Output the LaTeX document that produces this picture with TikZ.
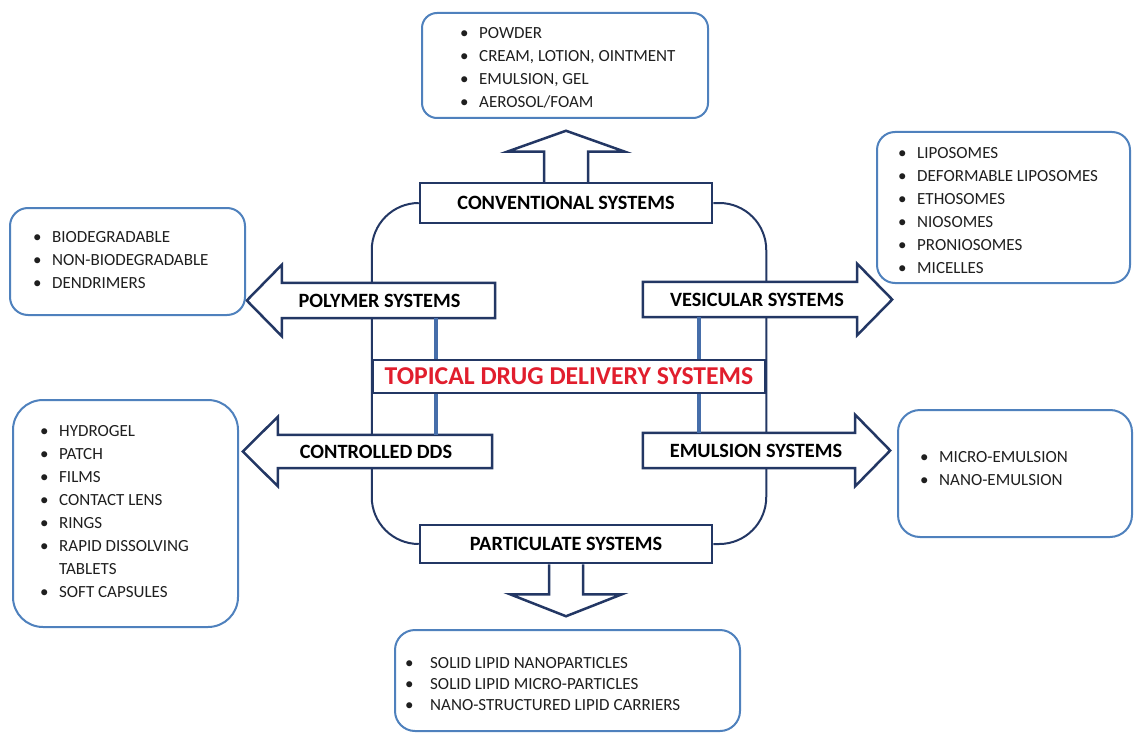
\documentclass[tikz,border=0pt]{standalone}
\usepackage{fontspec}
\setmainfont{Carlito}
\usetikzlibrary{calc}
\pgfdeclarelayer{looplayer}
\pgfdeclarelayer{arrlayer}
\pgfsetlayers{looplayer,arrlayer,main}
\definecolor{navy}{RGB}{35,55,100}
\definecolor{listblue}{RGB}{79,129,189}
\definecolor{connblue}{RGB}{70,110,170}
\definecolor{titlered}{RGB}{225,30,45}
\newcommand{\bul}{\makebox[19pt][l]{\textbullet}}
\begin{document}
\begin{tikzpicture}[x=1pt,y=-1pt,
  listbox/.style={draw=listblue, line width=2pt, fill=white},
  listtext/.style={anchor=west, align=left, inner sep=0pt, text=black!88,
    font=\fontsize{17}{23}\selectfont},
  catbox/.style={draw=navy, line width=2.5pt, fill=white, inner sep=0pt,
    font=\bfseries\fontsize{20.3}{22}\selectfont},
  catlabel/.style={inner sep=0pt, font=\bfseries\fontsize{20.3}{22}\selectfont},
  arrowshape/.style={draw=navy, line width=2.5pt, fill=white, line join=miter},
  loopline/.style={draw=navy, line width=2pt},
  thickconn/.style={draw=connblue, line width=4pt},
]
\useasboundingbox (0,0) rectangle (1135,733);

% category boxes
\node[catbox, minimum width=292pt, minimum height=40pt] (conv) at (566,203) {CONVENTIONAL SYSTEMS};
\node[catbox, minimum width=292pt, minimum height=38pt] (part) at (566,544) {PARTICULATE SYSTEMS};
\node[catbox, minimum width=392pt, minimum height=33pt, text=titlered,
  font=\bfseries\fontsize{25.7}{27}\selectfont] (tdds) at (569,376.5) {TOPICAL DRUG DELIVERY SYSTEMS};

% arrow labels
\node[catlabel, minimum width=213pt, minimum height=35pt] (poly) at (388.5,300.5) {POLYMER SYSTEMS\hspace*{18pt}};
\node[catlabel, minimum width=214pt, minimum height=33pt] (ctrl) at (385,451.5) {CONTROLLED DDS\hspace*{18pt}};
\node[catlabel, minimum width=214pt, minimum height=35pt] (ves) at (750,299.5) {\hspace*{14pt}VESICULAR SYSTEMS};
\node[catlabel, minimum width=212pt, minimum height=35pt] (emul) at (749,450.5) {\hspace*{14pt}EMULSION SYSTEMS};

% block arrows
\begin{pgfonlayer}{arrlayer}
\draw[arrowshape] (poly.north east) -- (poly.north west) -- ++(0,-18) -- ($(poly.west)+(-35,0)$)
  -- ($(poly.south west)+(0,18)$) -- (poly.south west) -- (poly.south east) -- cycle;
\draw[arrowshape] (ctrl.north east) -- (ctrl.north west) -- ++(0,-18) -- ($(ctrl.west)+(-35,0)$)
  -- ($(ctrl.south west)+(0,18)$) -- (ctrl.south west) -- (ctrl.south east) -- cycle;
\draw[arrowshape] (ves.north west) -- (ves.north east) -- ++(0,-18) -- ($(ves.east)+(35,0)$)
  -- ($(ves.south east)+(0,18)$) -- (ves.south east) -- (ves.south west) -- cycle;
\draw[arrowshape] (emul.north west) -- (emul.north east) -- ++(0,-18) -- ($(emul.east)+(35,0)$)
  -- ($(emul.south east)+(0,18)$) -- (emul.south east) -- (emul.south west) -- cycle;
\draw[arrowshape] ($(conv.north)+(-22,0)$) -- ++(0,-30) -- ++(-37,0) -- ++(59,-21)
  -- ++(59,21) -- ++(-37,0) -- ++(0,30);
\draw[arrowshape] ($(part.south)+(-17,0)$) -- ++(0,30) -- ++(-39,0) -- ++(56,22)
  -- ++(56,-22) -- ++(-39,0) -- ++(0,-30);
\end{pgfonlayer}

% loop
\begin{pgfonlayer}{looplayer}
\draw[loopline, rounded corners=47pt] (conv.west) -| (tdds.west) |- (part.west);
\draw[loopline, rounded corners=47pt] (conv.east) -| (tdds.east) |- (part.east);
\end{pgfonlayer}

% thick connectors
\coordinate (cl) at (436,0);
\coordinate (cr) at (699,0);
\draw[thickconn] (poly.south -| cl) -- (tdds.north -| cl);
\draw[thickconn] (ctrl.north -| cl) -- (tdds.south -| cl);
\draw[thickconn] (ves.south -| cr) -- (tdds.north -| cr);
\draw[thickconn] (emul.north -| cr) -- (tdds.south -| cr);

% list boxes
\node[listbox, rounded corners=15pt, minimum width=286pt, minimum height=105pt] (b1) at (565,65.5) {};
\node[listtext] (t1) at (460,68) {\bul POWDER\\\bul CREAM, LOTION, OINTMENT\\\bul EMULSION, GEL\\\bul AEROSOL/FOAM};

\node[listbox, rounded corners=18pt, minimum width=253pt, minimum height=151pt] (b2) at (1003.5,207.5) {};
\node[listtext] (t2) at (898,210.5) {\bul LIPOSOMES\\\bul DEFORMABLE LIPOSOMES\\\bul ETHOSOMES\\\bul NIOSOMES\\\bul PRONIOSOMES\\\bul MICELLES};

\node[listbox, rounded corners=18pt, minimum width=235pt, minimum height=107pt] (b3) at (127.5,261.5) {};
\node[listtext] (t3) at (33,260) {\bul BIODEGRADABLE\\\bul NON-BIODEGRADABLE\\\bul DENDRIMERS};

\node[listbox, rounded corners=30pt, minimum width=225pt, minimum height=227pt] (b4) at (125.5,513.5) {};
\node[listtext] (t4) at (40,512) {\bul HYDROGEL\\\bul PATCH\\\bul FILMS\\\bul CONTACT LENS\\\bul RINGS\\\bul RAPID DISSOLVING\\\hspace*{19pt}TABLETS\\\bul SOFT CAPSULES};

\node[listbox, rounded corners=22pt, minimum width=234pt, minimum height=127pt] (b5) at (1015,473.5) {};
\node[listtext] (t5) at (920,469) {\bul MICRO-EMULSION\\\bul NANO-EMULSION};

\node[listbox, rounded corners=20pt, minimum width=345pt, minimum height=101pt] (b6) at (567.5,680.5) {};
\node[listtext, font=\fontsize{17}{21}\selectfont] (t6) at (405,684) {\makebox[25pt][l]{\textbullet}SOLID LIPID NANOPARTICLES\\\makebox[25pt][l]{\textbullet}SOLID LIPID MICRO-PARTICLES\\\makebox[25pt][l]{\textbullet}NANO-STRUCTURED LIPID CARRIERS};
\end{tikzpicture}
\end{document}
